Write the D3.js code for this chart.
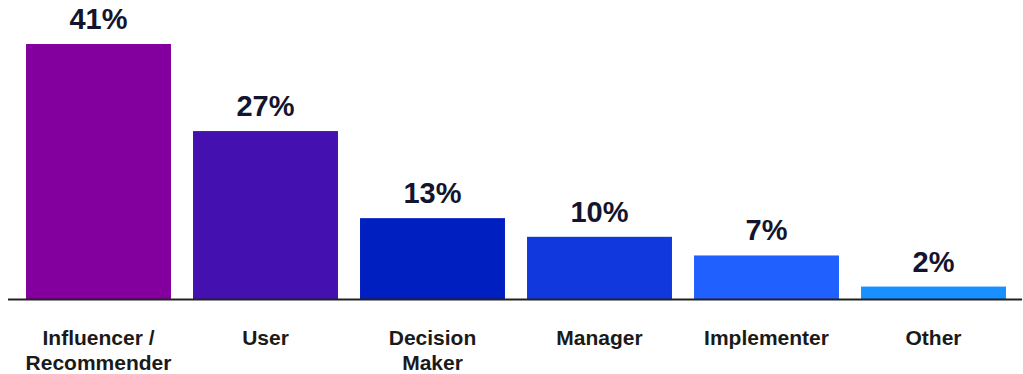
<!DOCTYPE html>
<html>
<head>
<meta charset="utf-8">
<script src="https://cdn.jsdelivr.net/npm/d3@7"></script>
<style>
  html, body { margin: 0; padding: 0; background: #ffffff; }
  svg { display: block; }
  text { font-family: "Liberation Sans", Arial, sans-serif; font-weight: bold; }
</style>
</head>
<body>
<svg id="chart" width="1023" height="374"></svg>
<script>
// Role shares (percent)
const categories = [["Influencer /", "Recommender"], ["User"], ["Decision", "Maker"], ["Manager"], ["Implementer"], ["Other"]];
const values = [41, 27, 13, 10, 7, 2];
const barColors = ["#84009e", "#4510b0", "#001fc0", "#1038dd", "#2060ff", "#1890ff"];

const width = 1023, height = 374;
const baseline = 299, topY = 44;

const svg = d3.select("#chart");

const x = d3.scaleBand()
  .domain(d3.range(values.length))
  .range([15, 1017])
  .paddingInner(0.132)
  .paddingOuter(0.066);

const y = d3.scaleLinear()
  .domain([0, d3.max(values)])
  .range([baseline, topY]);

// bars
svg.append("g").selectAll("rect")
  .data(values)
  .join("rect")
  .attr("x", (d, i) => x(i))
  .attr("width", x.bandwidth())
  .attr("y", d => y(d))
  .attr("height", d => baseline - y(d))
  .attr("fill", (d, i) => barColors[i]);

// value labels
svg.append("g").selectAll("text")
  .data(values)
  .join("text")
  .attr("x", (d, i) => x(i) + x.bandwidth() / 2)
  .attr("y", d => y(d) - 15)
  .attr("text-anchor", "middle")
  .attr("font-size", 29)
  .attr("fill", "#14142e")
  .text(d => d + "%");

// baseline axis
const axis = d3.axisBottom(x).tickSize(0).tickFormat("");
const axisG = svg.append("g")
  .attr("transform", `translate(0,${baseline + 0.5})`)
  .call(axis);
axisG.select(".domain")
  .attr("d", "M8,0H1022")
  .attr("stroke", "#222222")
  .attr("stroke-width", 2);

// category labels
const catG = svg.append("g").selectAll("text")
  .data(categories)
  .join("text")
  .attr("x", (d, i) => x(i) + x.bandwidth() / 2)
  .attr("y", 345)
  .attr("text-anchor", "middle")
  .attr("font-size", 21)
  .attr("fill", "#1a1a1a");
catG.selectAll("tspan")
  .data(d => d)
  .join("tspan")
  .attr("x", function() { return this.parentNode.getAttribute("x"); })
  .attr("dy", (d, j) => j === 0 ? 0 : 25)
  .text(d => d);
</script>
</body>
</html>
